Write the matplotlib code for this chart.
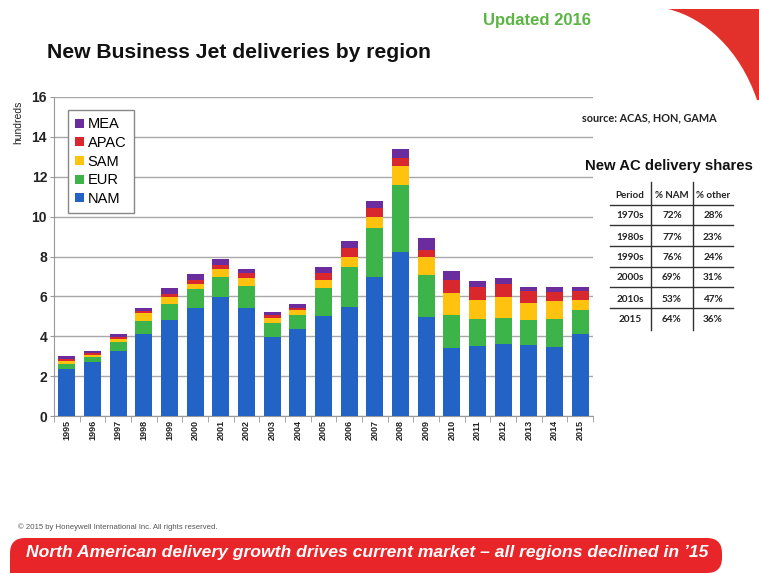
import matplotlib
matplotlib.use("Agg")
import matplotlib.pyplot as plt
import numpy as np
from matplotlib.patches import PathPatch, FancyBboxPatch
from matplotlib.path import Path
from matplotlib.lines import Line2D

# ---------------- data ----------------
years = [str(y) for y in range(1995, 2016)]
nam  = [2.35, 2.70, 3.26, 4.09, 4.82, 5.43, 5.95, 5.43, 3.97, 4.34, 5.02, 5.45, 6.95, 8.24, 4.95, 3.39, 3.53, 3.61, 3.55, 3.46, 4.11]
eur  = [0.27, 0.24, 0.45, 0.65, 0.81, 0.93, 1.03, 1.10, 0.67, 0.72, 1.40, 2.00, 2.49, 3.37, 2.10, 1.69, 1.33, 1.32, 1.26, 1.39, 1.20]
sam  = [0.13, 0.10, 0.13, 0.41, 0.32, 0.25, 0.39, 0.40, 0.29, 0.25, 0.41, 0.54, 0.55, 0.92, 0.90, 1.10, 0.95, 1.05, 0.84, 0.91, 0.50]
apac = [0.12, 0.10, 0.14, 0.13, 0.17, 0.20, 0.18, 0.25, 0.16, 0.13, 0.35, 0.46, 0.42, 0.39, 0.40, 0.64, 0.67, 0.64, 0.60, 0.47, 0.44]
mea  = [0.13, 0.10, 0.15, 0.12, 0.29, 0.29, 0.32, 0.20, 0.15, 0.19, 0.27, 0.31, 0.38, 0.45, 0.59, 0.45, 0.29, 0.28, 0.23, 0.25, 0.23]
series_names = ["NAM", "EUR", "SAM", "APAC", "MEA"]
series_colors = ["#2463C6", "#3CB44A", "#FFC20E", "#D9272E", "#6B2D9E"]

periods = ["1970s", "1980s", "1990s", "2000s", "2010s", "2015"]
nam_share = ["72%", "77%", "76%", "69%", "53%", "64%"]
other_share = ["28%", "23%", "24%", "31%", "47%", "36%"]
table_header = ["Period", "% NAM", "% other"]

W, H = 759, 573
fig = plt.figure(figsize=(W / 100, H / 100), dpi=100)
fig.patch.set_facecolor("white")

def fx(x):
    return x / W

def fy(y):
    return 1 - y / H

# ---------------- axes ----------------
ax_l, ax_r, ax_t, ax_b = 54, 593, 97, 416
ax = fig.add_axes([fx(ax_l), fy(ax_b), fx(ax_r - ax_l), (ax_b - ax_t) / H])
x = np.arange(len(years))
bottom = np.zeros(len(years))
handles = []
for name, vals, col in zip(series_names, [nam, eur, sam, apac, mea], series_colors):
    b = ax.bar(x, vals, width=0.66, bottom=bottom, color=col, label=name, zorder=3)
    handles.append(b)
    bottom = bottom + np.array(vals)

ax.set_xlim(-0.5, len(years) - 0.5)
ax.set_ylim(0, 16)
ax.set_yticks(np.arange(0, 17, 2))
ax.set_yticklabels([str(v) for v in range(0, 17, 2)], fontsize=10, fontweight="bold",
                   family="Liberation Sans", color="#222222")
ax.set_xticks(x)
ax.set_xticklabels(years, rotation=90, fontsize=6.5, fontweight="bold",
                   family="Liberation Sans", color="#222222")
ax.set_xticks(np.arange(-0.5, len(years), 1), minor=True)
ax.tick_params(axis="x", which="major", length=0, pad=3)
ax.tick_params(axis="x", which="minor", length=4, color="#999999")
ax.tick_params(axis="y", length=3, color="#999999", pad=2)
ax.grid(axis="y", color="#A8A8A8", linewidth=1, zorder=0)
for s in ["top", "right"]:
    ax.spines[s].set_visible(False)
for s in ["left", "bottom"]:
    ax.spines[s].set_color("#999999")

leg = ax.legend(handles[::-1], series_names[::-1], loc="upper left",
                bbox_to_anchor=(fx(68), fy(110)), bbox_transform=fig.transFigure,
                borderaxespad=0,
                prop={"family": "Liberation Sans", "size": 10.5},
                handlelength=0.6, handleheight=0.6, handletextpad=0.25,
                labelspacing=0.32, borderpad=0.5,
                fancybox=False, edgecolor="#888888", framealpha=1, shadow=False)
leg.get_frame().set_linewidth(1)

fig.text(fx(18), fy(122), "hundreds", rotation=90, fontsize=7.5, ha="center", va="center",
         family="Liberation Sans", color="#222222")

# ---------------- titles ----------------
fig.text(fx(47), fy(52), "New Business Jet deliveries by region", fontsize=15.2,
         fontweight="bold", family="Liberation Sans", ha="left", va="center", color="#111111")
fig.text(fx(483), fy(20), "Updated 2016", fontsize=12, fontweight="bold",
         family="Liberation Sans", ha="left", va="center", color="#5BB543")
fig.text(fx(582), fy(118), "source: ACAS, HON, GAMA", fontsize=7.8, fontweight="bold",
         family="Lato", ha="left", va="center", color="#222222")
fig.text(fx(585), fy(166), "New AC delivery shares", fontsize=10.7, fontweight="bold",
         family="Liberation Sans", ha="left", va="center", color="#111111")

# ---------------- table ----------------
col_x = [630, 672, 713]
row_y = [195, 216, 237, 258, 278, 299, 320]
for cx, t in zip(col_x, table_header):
    fig.text(fx(cx), fy(row_y[0]), t, fontsize=7, fontweight="bold", family="Lato",
             ha="center", va="center", color="#222222")
for i in range(len(periods)):
    for cx, t in zip(col_x, [periods[i], nam_share[i], other_share[i]]):
        fig.text(fx(cx), fy(row_y[i + 1]), t, fontsize=7.2, fontweight="bold", family="Lato",
                 ha="center", va="center", color="#222222")
for ly in [205, 225, 246, 267, 287, 308]:
    fig.add_artist(Line2D([fx(610), fx(733)], [fy(ly), fy(ly)], color="#333333",
                          linewidth=1, transform=fig.transFigure))
for lx in [651, 693]:
    fig.add_artist(Line2D([fx(lx), fx(lx)], [fy(182), fy(330)], color="#333333",
                          linewidth=1, transform=fig.transFigure))

# ---------------- decorations ----------------
verts = [(fx(668), fy(9)), (fx(705), fy(18)), (fx(740), fy(50)), (fx(757), fy(100)),
         (fx(759), fy(100)), (fx(759), fy(9)), (fx(668), fy(9))]
codes = [Path.MOVETO, Path.CURVE4, Path.CURVE4, Path.CURVE4, Path.LINETO, Path.LINETO, Path.CLOSEPOLY]
fig.add_artist(PathPatch(Path(verts, codes), facecolor="#E2302A", edgecolor="none",
                         transform=fig.transFigure))

banner = FancyBboxPatch((fx(10), fy(573)), fx(712), (573 - 538) / H,
                        boxstyle="round,pad=0,rounding_size=0.02",
                        facecolor="#E8262A", edgecolor="none", transform=fig.transFigure,
                        mutation_aspect=W / H)
fig.add_artist(banner)
fig.add_artist(PathPatch(Path([(fx(10), fy(560)), (fx(40), fy(560)), (fx(40), fy(573)),
                               (fx(10), fy(573)), (fx(10), fy(560))]),
                         facecolor="#E8262A", edgecolor="none", transform=fig.transFigure))
fig.text(fx(26), fy(553), "North American delivery growth drives current market \u2013 all regions declined in \u201915",
         fontsize=12.6, fontweight="bold", fontstyle="italic", family="Liberation Sans",
         color="white", ha="left", va="center")
fig.text(fx(18), fy(527), "\u00a9 2015 by Honeywell International Inc. All rights reserved.",
         fontsize=5.6, family="Liberation Sans", color="#555555", ha="left", va="center")

fig.savefig("out.png", dpi=100, facecolor="white")
